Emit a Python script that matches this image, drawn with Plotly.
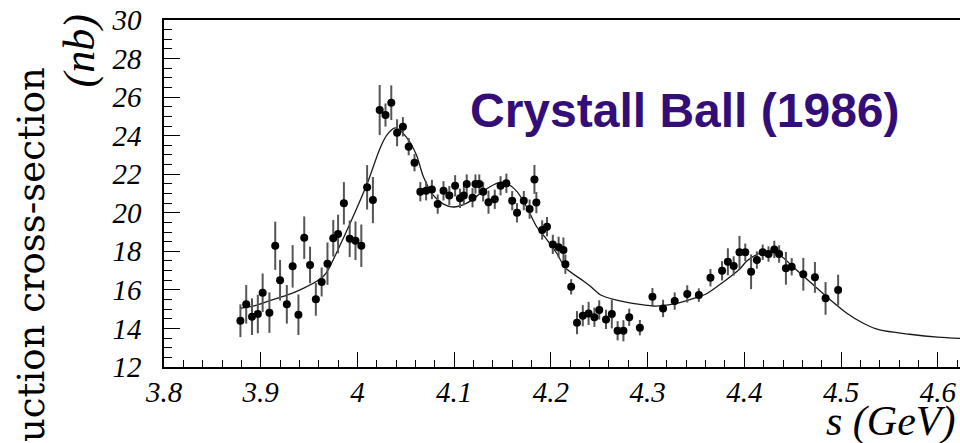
import plotly.graph_objects as go

# ---- data ----
energy = [3.879, 3.885, 3.891, 3.897, 3.902, 3.909, 3.915, 3.920, 3.927, 3.933,
          3.939, 3.945, 3.951, 3.957, 3.963, 3.969, 3.975, 3.980, 3.986, 3.992,
          3.998, 4.004, 4.010, 4.016, 4.023, 4.029, 4.035, 4.041, 4.047, 4.053,
          4.059, 4.065, 4.071, 4.077, 4.083, 4.089, 4.095, 4.101, 4.106, 4.110,
          4.113, 4.119, 4.122, 4.126, 4.130, 4.1355, 4.142, 4.148, 4.154, 4.160,
          4.165, 4.172, 4.178, 4.183, 4.185, 4.191, 4.196, 4.202, 4.208, 4.213,
          4.215, 4.221, 4.227, 4.233, 4.239, 4.245, 4.250, 4.257, 4.263, 4.269,
          4.275, 4.281, 4.292, 4.305, 4.316, 4.328, 4.341, 4.353, 4.365, 4.377,
          4.383, 4.389, 4.395, 4.401, 4.407, 4.413, 4.419, 4.425, 4.431, 4.436,
          4.443, 4.449, 4.461, 4.473, 4.484, 4.497]
sigma = [14.40, 15.25, 14.61, 14.75, 15.85, 14.82, 18.29, 16.50, 15.25, 17.22,
         14.71, 18.71, 17.29, 15.51, 16.41, 17.36, 18.68, 18.90, 20.49, 18.65,
         18.55, 18.29, 21.32, 20.66, 25.33, 25.07, 25.71, 24.15, 24.46, 23.43,
         22.60, 21.09, 21.14, 21.21, 20.45, 21.14, 20.89, 21.40, 20.75, 20.89,
         21.49, 20.78, 21.49, 21.49, 21.09, 20.55, 20.70, 21.40, 21.53, 20.63,
         20.00, 20.63, 20.19, 21.73, 20.53, 19.11, 19.28, 18.36, 18.21, 18.07,
         17.33, 16.16, 14.30, 14.66, 14.78, 14.58, 14.96, 14.47, 14.75, 13.88,
         13.88, 14.58, 14.04, 15.65, 15.04, 15.42, 15.79, 15.73, 16.63, 16.99,
         17.46, 17.24, 17.95, 17.95, 16.94, 17.55, 17.95, 17.86, 18.10, 17.86,
         17.12, 17.20, 16.81, 16.65, 15.56, 15.99]
sigma_err = [0.85, 1.0, 0.95, 1.0, 1.0, 1.05, 1.25, 1.05, 1.0, 1.1,
             1.05, 1.1, 0.95, 0.85, 0.75, 1.1, 0.95, 1.0, 1.1, 0.95,
             1.0, 1.1, 1.15, 1.2, 1.3, 0.6, 0.9, 0.7, 0.5, 0.45,
             0.45, 0.5, 0.5, 0.5, 0.5, 0.5, 0.5, 0.55, 0.5, 0.5,
             0.5, 0.5, 0.5, 0.5, 0.5, 0.6, 0.5, 0.5, 0.5, 0.5,
             0.5, 0.5, 0.5, 0.75, 0.55, 0.5, 0.5, 0.5, 0.55, 0.65,
             0.5, 0.4, 0.6, 0.55, 0.6, 0.5, 0.5, 0.5, 0.75, 0.5,
             0.55, 0.45, 0.4, 0.45, 0.45, 0.45, 0.45, 0.35, 0.45, 0.5,
             0.7, 0.5, 0.85, 0.45, 0.9, 0.45, 0.4, 0.4, 0.45, 0.45,
             0.85, 0.45, 0.85, 0.8, 0.85, 0.8]

fit_x = [3.879, 3.893, 3.910, 3.927, 3.944, 3.961, 3.968, 3.980, 3.992, 4.010,
         4.023, 4.030, 4.039, 4.051, 4.061, 4.068, 4.0785, 4.089, 4.099, 4.113,
         4.127, 4.137, 4.1475, 4.154, 4.165, 4.175, 4.185, 4.196, 4.206, 4.215,
         4.234, 4.2405, 4.251, 4.266, 4.292, 4.309, 4.327, 4.344, 4.361, 4.378,
         4.3956, 4.4026, 4.416, 4.427, 4.437, 4.454, 4.4715, 4.489, 4.506, 4.523,
         4.540, 4.571, 4.600, 4.625]
fit_y = [15.05, 15.17, 15.45, 15.73, 16.08, 16.55, 16.90, 18.10, 19.40, 21.50,
         23.30, 24.00, 24.40, 23.90, 23.00, 21.90, 20.90, 20.45, 20.30, 20.50,
         21.00, 21.35, 21.58, 21.53, 21.10, 20.30, 19.30, 18.60, 17.90, 17.15,
         16.45, 16.20, 15.75, 15.50, 15.25, 15.16, 15.27, 15.50, 15.80, 16.40,
         17.10, 17.50, 17.90, 18.00, 17.80, 17.03, 16.25, 15.48, 14.79, 14.27,
         13.92, 13.70, 13.55, 13.48]

x_ticks = [3.8, 3.9, 4.0, 4.1, 4.2, 4.3, 4.4, 4.5, 4.6]
x_tick_text = ["3.8", "3.9", "4", "4.1", "4.2", "4.3", "4.4", "4.5", "4.6"]
y_ticks = [12, 14, 16, 18, 20, 22, 24, 26, 28, 30]
y_tick_text = ["12", "14", "16", "18", "20", "22", "24", "26", "28", "30"]

# ---- figure ----
W, H = 960, 443
L, R, T, B = 164, 0, 20, 76
pw, ph = W - L - R, H - T - B

def px_x(p):
    return (p - L) / pw

def px_y(p):
    return (H - B - p) / ph

SERIF = "Liberation Serif, Times New Roman, serif"
tick_font = dict(family=SERIF, size=29, style="italic", color="black")
serif_it = dict(family=SERIF, style="italic", color="black")

fig = go.Figure()
fig.add_trace(go.Scatter(
    x=fit_x, y=fit_y, mode="lines", line=dict(color="#1a1a1a", width=1.3, shape="spline", smoothing=0.8),
    hoverinfo="skip", showlegend=False))
fig.add_trace(go.Scatter(
    x=energy, y=sigma, mode="markers",
    marker=dict(color="black", size=8),
    error_y=dict(type="data", array=sigma_err, visible=True, color="#555555", thickness=2, width=0),
    showlegend=False))

fig.update_layout(
    width=W, height=H,
    font=dict(family=SERIF, color="black"),
    margin=dict(l=L, r=R, t=T, b=B, pad=0),
    plot_bgcolor="white", paper_bgcolor="white",
    xaxis=dict(range=[3.8, 4.623], tickvals=x_ticks, ticktext=x_tick_text,
               ticks="inside", ticklen=15, tickwidth=1.2, tickcolor="black",
               minor=dict(dtick=0.02, ticks="inside", ticklen=7, tickwidth=1, tickcolor="black"),
               showgrid=False, zeroline=False,
               showline=True, linecolor="black", linewidth=1.5, mirror=True,
               tickfont=tick_font, ticklabelstandoff=-2),
    yaxis=dict(range=[12, 30], tickvals=y_ticks, ticktext=y_tick_text,
               ticks="inside", ticklen=16, tickwidth=1.2, tickcolor="black",
               minor=dict(dtick=0.5, ticks="inside", ticklen=8, tickwidth=1, tickcolor="black"),
               showgrid=False, zeroline=False,
               showline=True, linecolor="black", linewidth=1.5,
               tickfont=tick_font, ticklabelstandoff=15),
    annotations=[
        dict(text="Crystall Ball (1986)", xref="paper", yref="paper",
             x=px_x(685), y=px_y(110), xanchor="center", yanchor="middle", showarrow=False,
             font=dict(family="Liberation Sans", size=48, weight="bold", color="#330e78")),
        dict(text="s (GeV)", xref="paper", yref="paper",
             x=px_x(957), y=px_y(422), xanchor="right", yanchor="middle", showarrow=False,
             font=dict(size=42, **serif_it)),
        dict(text="(nb)", xref="paper", yref="paper", textangle=-90,
             x=px_x(79), y=px_y(13), xanchor="center", yanchor="top", showarrow=False,
             font=dict(size=44, **serif_it)),
        dict(text="Production cross-section", xref="paper", yref="paper", textangle=-90,
             x=px_x(31), y=px_y(66), xanchor="center", yanchor="top", showarrow=False,
             font=dict(family="DejaVu Serif", size=37, color="black")),
    ],
)

fig.write_html("out.html")
